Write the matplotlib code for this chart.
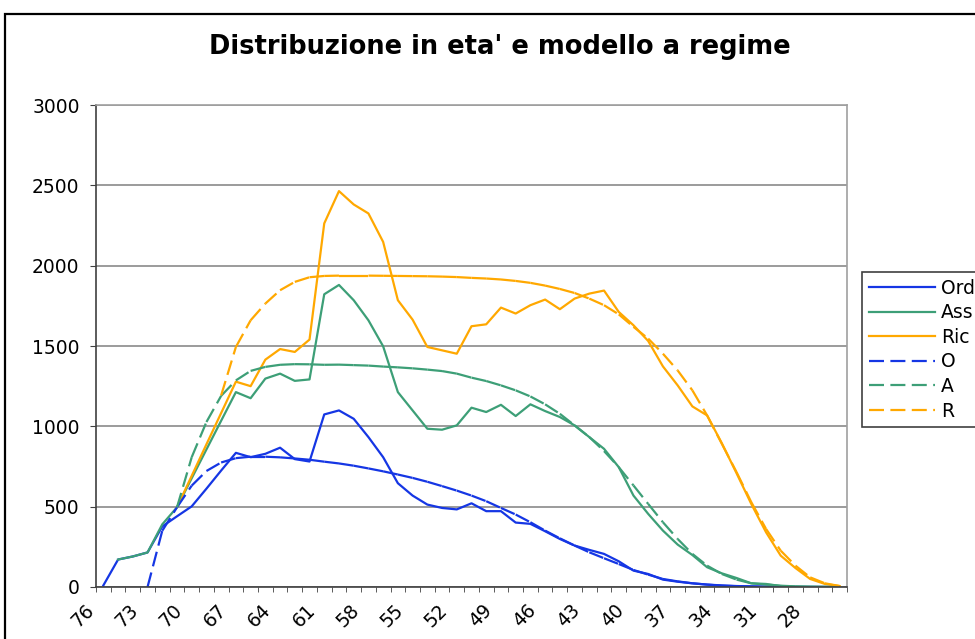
import numpy as np
import matplotlib
matplotlib.use('Agg')
import matplotlib.pyplot as plt
import matplotlib.transforms as mtransforms
from matplotlib.lines import Line2D
from matplotlib.patches import Rectangle

plt.rcParams['lines.scale_dashes'] = False

nan = np.nan
ages = list(range(76, 25, -1))  # 76 .. 26

# observed distribution
ord_vals = [10, 171, 190, 215, 377, 440, 502, 612, 725, 835,
            808, 829, 867, 796, 781, 1074, 1099, 1047, 933, 808,
            646, 569, 513, 492, 483, 521, 472, 472, 401, 393,
            347, 299, 258, 231, 206, 160, 102, 81, 46, 33,
            23, 15, 10, 6, 4, 2, 1, 0, 0, 0, 0]
ass_vals = [nan, 171, 190, 215, 390, 496, 677, 856, 1035, 1213,
            1175, 1297, 1328, 1283, 1292, 1822, 1880, 1785, 1660, 1498,
            1213, 1099, 985, 979, 1006, 1116, 1089, 1134, 1064, 1137,
            1095, 1058, 1006, 933, 860, 746, 569, 455, 351, 264,
            199, 123, 85, 56, 23, 19, 6, 2, 1, 0, 0]
ric_vals = [nan, nan, nan, nan, nan, 496, 692, 888, 1083, 1278,
            1250, 1415, 1481, 1463, 1540, 2263, 2464, 2381, 2325, 2148,
            1785, 1664, 1494, 1473, 1452, 1623, 1635, 1739, 1702, 1754,
            1789, 1729, 1795, 1826, 1845, 1712, 1629, 1531, 1373, 1255,
            1124, 1068, 895, 708, 517, 341, 195, 118, 50, 19, 6]

# steady-state model
o_vals = [nan, nan, nan, 0, 350, 496, 631, 722, 775, 802,
          811, 811, 807, 800, 792, 780, 769, 755, 738, 720,
          700, 679, 655, 628, 600, 569, 534, 492, 451, 403,
          351, 303, 258, 216, 179, 143, 106, 77, 50, 35,
          23, 15, 8, 5, 3, 2, 1, 0, 0, 0, 0]
a_vals = [nan, nan, nan, nan, nan, 496, 808, 1027, 1190, 1286,
          1345, 1370, 1383, 1387, 1386, 1383, 1384, 1381, 1378, 1372,
          1367, 1361, 1353, 1344, 1328, 1303, 1282, 1255, 1224, 1186,
          1137, 1078, 1006, 933, 846, 746, 632, 517, 403, 299,
          206, 133, 81, 46, 23, 15, 8, 4, 2, 1, 0]
r_vals = [nan, nan, nan, nan, nan, nan, nan, nan, 1193, 1494,
          1660, 1764, 1847, 1899, 1928, 1936, 1938, 1938, 1938, 1937,
          1936, 1935, 1934, 1932, 1929, 1924, 1920, 1914, 1905, 1893,
          1876, 1855, 1830, 1795, 1754, 1697, 1619, 1546, 1452, 1348,
          1224, 1068, 891, 715, 528, 362, 226, 133, 60, 23, 6]

BLUE = '#1536e4'
GREEN = '#3d9f77'
ORANGE = '#ffa800'
DASH = (10.8, 4.6)

fig = plt.figure(figsize=(9.75, 6.39), dpi=100)
ax = fig.add_axes([96 / 975, 1 - 587 / 639, (847 - 96) / 975, (587 - 105) / 639])
x = np.arange(len(ages))

for vals, c in [(ord_vals, BLUE), (ass_vals, GREEN), (ric_vals, ORANGE)]:
    ax.plot(x, vals, color=c, lw=1.6)


def dashed(vals, color):
    # excel restarts the dash pattern on every segment
    v = np.asarray(vals, float)
    for i in range(len(v) - 1):
        if np.isnan(v[i]) or np.isnan(v[i + 1]):
            continue
        ax.plot(x[i:i + 2], v[i:i + 2], color=color, lw=1.6, dashes=DASH,
                dash_capstyle='butt')


dashed(o_vals, BLUE)
dashed(a_vals, GREEN)
dashed(r_vals, ORANGE)

ax.set_xlim(-0.5, len(ages) - 0.5)
ax.set_ylim(0, 3000)
ax.set_yticks(range(0, 3001, 500))
ax.grid(axis='y', color='#808080', lw=1.1)
ax.set_axisbelow(True)

ax.set_xticks(x[::3])
ax.set_xticklabels([str(a) for a in ages[::3]])
ax.set_xticks(np.arange(-0.5, len(ages)), minor=True)
ax.tick_params(axis='x', which='major', length=0, pad=0, labelsize=13.5)
ax.tick_params(axis='x', which='minor', length=3.6, color='#404040')
ax.tick_params(axis='y', length=4.3, pad=7.5, labelsize=13.5, color='#404040')
off = mtransforms.ScaledTranslation(-0.12, -0.20, fig.dpi_scale_trans)
for lbl in ax.get_xticklabels():
    lbl.set_rotation(45)
    lbl.set_ha('right')
    lbl.set_va('center')
    lbl.set_rotation_mode('anchor')
    lbl.set_transform(lbl.get_transform() + off)

for s in ['left', 'bottom']:
    ax.spines[s].set_color('#404040')
    ax.spines[s].set_linewidth(1.2)
for s in ['top', 'right']:
    ax.spines[s].set_color('#a0a0a0')
    ax.spines[s].set_linewidth(1.2)

fig.text(0.513, 1 - 47 / 639, "Distribuzione in eta' e modello a regime",
         ha='center', va='center', fontsize=18.5, fontweight='bold')

handles = [Line2D([], [], color=BLUE, lw=1.6),
           Line2D([], [], color=GREEN, lw=1.6),
           Line2D([], [], color=ORANGE, lw=1.6),
           Line2D([], [], color=BLUE, lw=1.6, dashes=DASH),
           Line2D([], [], color=GREEN, lw=1.6, dashes=DASH),
           Line2D([], [], color=ORANGE, lw=1.6, dashes=DASH)]
leg = fig.legend(handles, ['Ord', 'Ass', 'Ric', 'O', 'A', 'R'],
                 loc='upper left', bbox_to_anchor=(862 / 975, 1 - 272 / 639),
                 fontsize=13.5, handlelength=3.55, handletextpad=0.3,
                 labelspacing=0.3, borderpad=0.35, borderaxespad=0,
                 fancybox=False, framealpha=1)
leg.get_frame().set_edgecolor('#404040')
leg.get_frame().set_linewidth(1.2)

fig.patches.append(Rectangle((5 / 975, -0.1), 1.2, 1 - 14 / 639 + 0.1,
                             transform=fig.transFigure, fill=False,
                             ec='black', lw=1.6))

fig.savefig('out.png', dpi=100)
